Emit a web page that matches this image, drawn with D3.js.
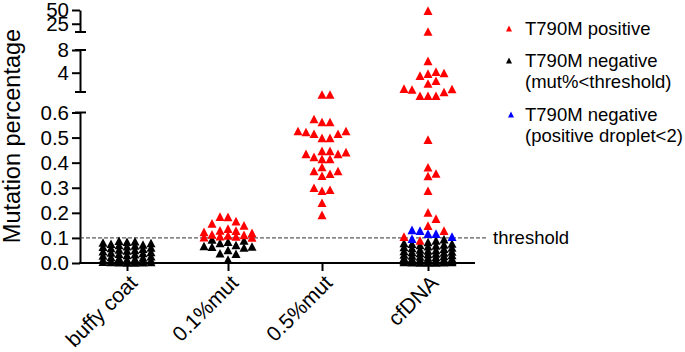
<!DOCTYPE html>
<html>
<head>
<meta charset="utf-8">
<script src="https://cdn.jsdelivr.net/npm/d3@7"></script>
<style>
  body { margin: 0; background: #fff; }
  svg text { font-family: "Liberation Sans", Arial, sans-serif; fill: #000; }
</style>
</head>
<body>
<div id="chart"></div>
<script>
// Categories and tick labels
const groups = ["buffy coat", "0.1%mut", "0.5%mut", "cfDNA"];
const lowTicks = [0, 0.1, 0.2, 0.3, 0.4, 0.5, 0.6];
const midTicks = [4, 8];
const topTicks = [25, 50];
const threshold = 0.1;

// Mutation percentage per sample
const buffyNegative = [0, 0, 0.001, 0.001, 0.002, 0.002, 0.003, 0.004, 0.005, 0.006, 0.007, 0.008, 0.01, 0.012, 0.013,
    0.015, 0.018, 0.02, 0.022, 0.025, 0.028, 0.03, 0.033, 0.035, 0.038, 0.04, 0.042, 0.045, 0.048, 0.05, 0.052,
    0.055, 0.058, 0.06, 0.063, 0.065, 0.068, 0.07, 0.072, 0.075, 0.078, 0.08, 0.083, 0.085, 0.087];
const mut01Positive = [0.183, 0.182, 0.165, 0.156, 0.148, 0.135, 0.128, 0.127, 0.122, 0.118, 0.112, 0.11, 0.108, 0.105, 0.104, 0.101, 0.1];
const mut01Negative = [0.092, 0.088, 0.083, 0.078, 0.07, 0.066, 0.064, 0.063, 0.06, 0.05, 0.037, 0.035, 0.012];
const mut05Positive = [0.67, 0.67, 0.572, 0.56, 0.56, 0.524, 0.524, 0.52, 0.513, 0.513, 0.497, 0.497, 0.445, 0.445, 0.44,
    0.433, 0.433, 0.421, 0.413, 0.413, 0.381, 0.365, 0.365, 0.354, 0.346, 0.298, 0.29, 0.286, 0.238, 0.19];
const cfdnaPositive = [48, 10, 6.0, 4.1, 3.85, 3.75, 3.4, 2.5, 2.0, 1.1, 1.05, 0.95, 0.68, 0.665, 0.665, 0.665,
    0.49, 0.38, 0.355, 0.345, 0.286, 0.2, 0.175, 0.147, 0.127, 0.103, 0.088];
const cfdnaLowDroplet = [0.13, 0.127, 0.115, 0.115, 0.103, 0.095];
const cfdnaNegative = [0.093, 0.088, 0.082, 0.078, 0.076, 0.075, 0.072, 0.07, 0.068, 0.065, 0.062, 0.06, 0.058, 0.055,
    0.052, 0.05, 0.048, 0.046, 0.044, 0.042, 0.04, 0.038, 0.036, 0.034, 0.032, 0.03, 0.028, 0.026, 0.024, 0.022,
    0.02, 0.018, 0.016, 0.015, 0.013, 0.012, 0.01, 0.009, 0.008, 0.007, 0.006, 0.005, 0.004, 0.003, 0.003, 0.002,
    0.002, 0.001, 0.001, 0, 0, 0];

const legendLabels = [["T790M positive"], ["T790M negative", "(mut%<threshold)"], ["T790M negative", "(positive droplet<2)"]];
const legendColors = ["#ff0000", "#000000", "#0000ff"];

function main() {
    const width = 685, height = 352;
    const axisX = 80;

    const svg = d3.select("#chart")
        .append("svg")
        .attr("width", width)
        .attr("height", height);

    // Broken y axis: three linear segments
    const yLow = d3.scaleLinear().domain([0, 0.6]).range([263, 112.5]);
    const yMid = d3.scaleLinear().domain([0.6, 8]).range([92, 50]);
    const yTop = d3.scaleLinear().domain([10, 50]).range([32, 10]);
    const yPos = v => v <= 0.7 ? yLow(v) : (v <= 8 ? yMid(v) : yTop(v));

    const x = d3.scaleOrdinal().domain(groups).range([127, 228, 322, 428]);

    // Y axis segments
    const segments = [
        {scale: yLow, ticks: lowTicks, fmt: d3.format(".1f"), caps: [112.5]},
        {scale: yMid, ticks: midTicks, fmt: d3.format("d"), caps: [92, 50]},
        {scale: yTop, ticks: topTicks, fmt: d3.format("d"), caps: [32]}
    ];
    segments.forEach(s => {
        const g = svg.append("g")
            .attr("transform", `translate(${axisX},0)`)
            .call(d3.axisLeft(s.scale).tickValues(s.ticks).tickFormat(s.fmt).tickSize(8).tickSizeOuter(0).tickPadding(3));
        g.select(".domain").attr("stroke-width", 2);
        g.selectAll(".tick line").attr("stroke-width", 2);
        g.selectAll(".tick text").style("font-size", "20.5px");
        s.caps.forEach(c => {
            g.append("line")
                .attr("x1", -5).attr("x2", 6)
                .attr("y1", c).attr("y2", c)
                .attr("stroke", "#000").attr("stroke-width", 2);
        });
    });

    // X axis
    svg.append("line")
        .attr("x1", axisX - 1).attr("x2", 475)
        .attr("y1", yLow(0)).attr("y2", yLow(0))
        .attr("stroke", "#000").attr("stroke-width", 2);
    const xg = svg.append("g")
        .attr("transform", `translate(0,${yLow(0)})`)
        .call(d3.axisBottom(x).tickSize(8).tickSizeOuter(0));
    xg.select(".domain").remove();
    xg.selectAll(".tick line").attr("stroke-width", 2);
    xg.selectAll(".tick text")
        .style("font-size", "21px")
        .attr("text-anchor", "end")
        .attr("dy", "0.35em")
        .attr("y", 0)
        .attr("transform", "translate(6,16) rotate(-45)");

    // Threshold line
    svg.append("line")
        .attr("x1", axisX).attr("x2", 488)
        .attr("y1", yLow(threshold)).attr("y2", yLow(threshold))
        .attr("stroke", "#333").attr("stroke-width", 1)
        .attr("stroke-dasharray", "4,2");
    svg.append("text")
        .attr("x", 493).attr("y", yLow(threshold))
        .attr("dy", "0.35em")
        .style("font-size", "18.5px")
        .text("threshold");

    // Y axis title
    svg.append("text")
        .attr("transform", "translate(20,136) rotate(-90)")
        .attr("text-anchor", "middle")
        .style("font-size", "23.5px")
        .text("Mutation percentage");

    // Points: one column per group, laid out as a column scatter
    const columns = [
        {group: "buffy coat", series: [[buffyNegative, "#000000", 0]]},
        {group: "0.1%mut", series: [[mut01Negative, "#000000", 0], [mut01Positive, "#ff0000", 2]]},
        {group: "0.5%mut", series: [[mut05Positive, "#ff0000", 2]]},
        {group: "cfDNA", series: [[cfdnaNegative, "#000000", 0], [cfdnaLowDroplet, "#0000ff", 1], [cfdnaPositive, "#ff0000", 2]]}
    ];

    const step = 8, minDy = 8, maxHalf = 6;
    function swarm(points) {
        const placed = [];
        points.slice().sort((a, b) => b.py - a.py).forEach(p => {
            let best = 0, bestScore = -1;
            for (let i = 0; i <= 2 * maxHalf; i++) {
                const k = i === 0 ? 0 : (i % 2 ? (i + 1) / 2 : -i / 2);
                const ox = k * step / 2;
                let nearest = Infinity;
                placed.forEach(q => {
                    if (Math.abs(q.ox - ox) < step * 0.9) nearest = Math.min(nearest, Math.abs(q.py - p.py));
                });
                if (nearest >= minDy) { best = ox; break; }
                if (nearest > bestScore) { bestScore = nearest; best = ox; }
            }
            p.ox = best;
            placed.push(p);
        });
        return points;
    }

    let allPoints = [];
    columns.forEach(col => {
        const pts = [];
        col.series.forEach(([vals, color, order]) => {
            vals.forEach(v => pts.push({group: col.group, value: v, color: color, order: order, py: yPos(v)}));
        });
        allPoints = allPoints.concat(swarm(pts));
    });
    allPoints.sort((a, b) => a.order - b.order);

    const tri = "M0,-4.8L4.5,3.8L-4.5,3.8Z";
    svg.append("g")
        .selectAll("path")
        .data(allPoints)
        .join("path")
        .attr("d", tri)
        .attr("transform", d => `translate(${x(d.group) + d.ox},${d.py})`)
        .attr("fill", d => d.color);

    // Legend
    const legend = svg.append("g");
    const legendY = [29, 61, 115];
    legendLabels.forEach((lines, i) => {
        legend.append("path")
            .attr("d", "M0,-3.5L3,2.5L-3,2.5Z")
            .attr("transform", `translate(${i === 2 ? 511 : 509},${legendY[i]})`)
            .attr("fill", legendColors[i]);
        lines.forEach((t, j) => {
            legend.append("text")
                .attr("x", 525)
                .attr("y", legendY[i] + 6 + j * 21)
                .style("font-size", "18.5px")
                .text(t);
        });
    });
}

main();
</script>
</body>
</html>
